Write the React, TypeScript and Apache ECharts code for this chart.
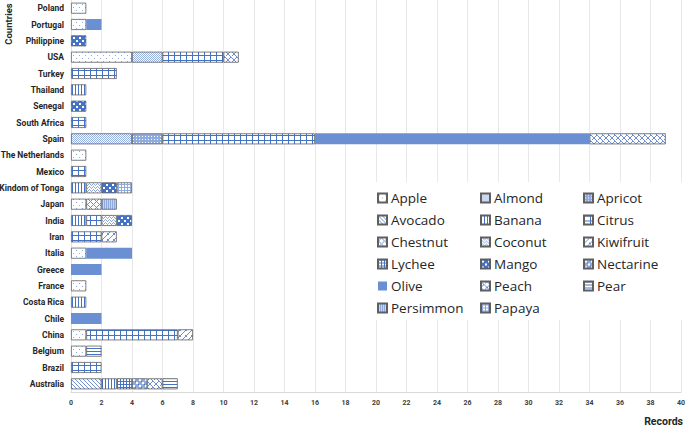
import React, { useEffect, useRef } from "react";
import * as echarts from "echarts";

const countries = [
  "Poland", "Portugal", "Philippine", "USA", "Turkey", "Thailand", "Senegal", "South Africa",
  "Spain", "The Netherlands", "Mexico", "Kindom of Tonga", "Japan", "India", "Iran", "Italia",
  "Greece", "France", "Costa Rica", "Chile", "China", "Belgium", "Brazil", "Australia",
];

// values per country, same order as `countries`
const apple =     [1, 1, 0, 4, 0, 0, 0, 0, 0, 1, 0, 0, 1, 0, 0, 1, 0, 1, 0, 0, 1, 1, 0, 0];
const almond =    [0, 0, 0, 2, 0, 0, 0, 0, 4, 0, 0, 0, 0, 0, 0, 0, 0, 0, 0, 0, 0, 0, 0, 0];
const apricot =   [0, 0, 0, 0, 0, 0, 0, 0, 2, 0, 0, 0, 0, 0, 0, 0, 0, 0, 0, 0, 0, 0, 0, 0];
const avocado =   [0, 0, 0, 0, 0, 0, 0, 0, 0, 0, 0, 0, 0, 0, 0, 0, 0, 0, 0, 0, 0, 0, 0, 2];
const banana =    [0, 0, 0, 0, 0, 1, 0, 0, 0, 0, 0, 1, 0, 1, 0, 0, 0, 0, 1, 0, 0, 0, 0, 1];
const citrus =    [0, 0, 0, 4, 3, 0, 0, 1, 10, 0, 1, 0, 0, 1, 2, 0, 0, 0, 0, 0, 6, 0, 2, 0];
const chestnut =  [0, 0, 0, 0, 0, 0, 0, 0, 0, 0, 0, 0, 1, 0, 0, 0, 0, 0, 0, 0, 0, 0, 0, 0];
const coconut =   [0, 0, 0, 0, 0, 0, 0, 0, 0, 0, 0, 1, 0, 1, 0, 0, 0, 0, 0, 0, 0, 0, 0, 0];
const kiwifruit = [0, 0, 0, 0, 0, 0, 0, 0, 0, 0, 0, 0, 0, 0, 1, 0, 0, 0, 0, 0, 1, 0, 0, 0];
const lychee =    [0, 0, 0, 0, 0, 0, 0, 0, 0, 0, 0, 0, 0, 0, 0, 0, 0, 0, 0, 0, 0, 0, 0, 1];
const mango =     [0, 0, 1, 0, 0, 0, 1, 0, 0, 0, 0, 1, 0, 1, 0, 0, 0, 0, 0, 0, 0, 0, 0, 0];
const nectarine = [0, 0, 0, 0, 0, 0, 0, 0, 0, 0, 0, 0, 0, 0, 0, 0, 0, 0, 0, 0, 0, 0, 0, 1];
const olive =     [0, 1, 0, 0, 0, 0, 0, 0, 18, 0, 0, 0, 0, 0, 0, 3, 2, 0, 0, 2, 0, 0, 0, 0];
const peach =     [0, 0, 0, 1, 0, 0, 0, 0, 5, 0, 0, 0, 0, 0, 0, 0, 0, 0, 0, 0, 0, 0, 0, 1];
const pear =      [0, 0, 0, 0, 0, 0, 0, 0, 0, 0, 0, 0, 0, 0, 0, 0, 0, 0, 0, 0, 0, 1, 0, 1];
const persimmon = [0, 0, 0, 0, 0, 0, 0, 0, 0, 0, 0, 0, 1, 0, 0, 0, 0, 0, 0, 0, 0, 0, 0, 0];
const papaya =    [0, 0, 0, 0, 0, 0, 0, 0, 0, 0, 0, 1, 0, 0, 0, 0, 0, 0, 0, 0, 0, 0, 0, 0];

const fruitNames = [
  "Apple", "Almond", "Apricot", "Avocado", "Banana", "Citrus", "Chestnut", "Coconut",
  "Kiwifruit", "Lychee", "Mango", "Nectarine", "Olive", "Peach", "Pear", "Persimmon", "Papaya",
];
const fruitValues = [
  apple, almond, apricot, avocado, banana, citrus, chestnut, coconut,
  kiwifruit, lychee, mango, nectarine, olive, peach, pear, persimmon, papaya,
];

const xTicks = { min: 0, max: 40, interval: 2 };

const BLUE = "#4472c4";
const MID = "#6f8fd0";
const LIGHT = "#8faadc";
const OLIVE = "#6a8fd3";

function tile(w: number, h: number, bg: string, draw: (c: CanvasRenderingContext2D) => void) {
  const cv = document.createElement("canvas");
  cv.width = w;
  cv.height = h;
  const c = cv.getContext("2d")!;
  c.fillStyle = bg;
  c.fillRect(0, 0, w, h);
  draw(c);
  return { image: cv, repeat: "repeat" } as any;
}
function px(c: CanvasRenderingContext2D, col: string, pts: number[][]) {
  c.fillStyle = col;
  pts.forEach(([x, y]) => c.fillRect(x, y, 1, 1));
}

function makePatterns(): Record<string, any> {
  const p: Record<string, any> = {};
  p.Apple = tile(6, 6, "#fff", (c) => px(c, LIGHT, [[1, 1], [4, 4]]));
  p.Almond = tile(2, 2, "#fff", (c) => px(c, "#97b0e0", [[0, 0], [1, 1]]));
  p.Apricot = tile(3, 3, "#8eaadf", (c) => px(c, "#fff", [[1, 1]]));
  p.Avocado = tile(4, 4, "#fff", (c) => px(c, MID, [[0, 0], [1, 1], [2, 2], [3, 3]]));
  p.Banana = tile(3, 1, "#fff", (c) => px(c, BLUE, [[0, 0]]));
  p.Citrus = tile(6, 5, "#fff", (c) => {
    c.fillStyle = BLUE;
    c.fillRect(0, 0, 6, 1);
    c.fillRect(0, 0, 1, 5);
  });
  p.Chestnut = tile(6, 6, "#fff", (c) =>
    px(c, MID, [[3, 0], [2, 1], [4, 1], [1, 2], [5, 2], [0, 3], [1, 4], [5, 4], [2, 5], [4, 5]]));
  p.Coconut = tile(4, 3, "#fff", (c) => px(c, LIGHT, [[0, 1], [1, 0], [2, 1], [3, 2]]));
  p.Kiwifruit = tile(6, 6, "#fff", (c) =>
    px(c, MID, [[5, 0], [4, 1], [3, 2], [2, 3], [1, 4], [0, 5], [0, 0], [5, 5]]));
  p.Lychee = tile(3, 3, "#fff", (c) => {
    c.fillStyle = BLUE;
    c.fillRect(0, 0, 3, 1);
    c.fillRect(0, 0, 1, 3);
  });
  p.Mango = tile(6, 6, BLUE, (c) => {
    c.fillStyle = "#fff";
    c.fillRect(1, 1, 2, 2);
    c.fillRect(4, 4, 2, 2);
  });
  p.Nectarine = tile(6, 6, LIGHT, (c) => {
    c.fillStyle = "#fff";
    c.fillRect(1, 1, 2, 2);
    c.fillRect(4, 4, 2, 2);
    px(c, BLUE, [[0, 0], [3, 3]]);
  });
  p.Olive = OLIVE;
  p.Peach = tile(6, 6, "#fff", (c) =>
    px(c, MID, [[0, 0], [1, 1], [2, 2], [3, 3], [4, 4], [5, 5], [5, 0], [4, 1], [2, 3], [1, 4], [0, 5]]));
  p.Pear = tile(1, 3, "#fff", (c) => px(c, BLUE, [[0, 0]]));
  p.Persimmon = tile(2, 1, "#c5d5f0", (c) => px(c, LIGHT, [[0, 0]]));
  p.Papaya = tile(3, 3, "#fff", (c) => {
    c.fillStyle = LIGHT;
    c.fillRect(0, 1, 3, 1);
    c.fillRect(1, 0, 1, 3);
  });
  return p;
}

const FONT = "Roboto, sans-serif";

export default function App() {
  const ref = useRef<HTMLDivElement>(null);
  useEffect(() => {
    document.body.style.margin = "0";
    const chart = echarts.init(ref.current!, null, { renderer: "svg" });
    const pats = makePatterns();
    const series = fruitNames.map((name, i) => ({
      name,
      type: "bar",
      stack: "total",
      barWidth: 11,
      data: fruitValues[i].map((v) => (v ? v : null)),
      itemStyle: {
        color: pats[name],
        borderColor: name === "Olive" ? OLIVE : "#5f5f5f",
        borderWidth: name === "Olive" ? 0 : 0.8,
      },
    }));
    const legendCols = [
      ["Apple", "Avocado", "Chestnut", "Lychee", "Olive", "Persimmon"],
      ["Almond", "Banana", "Coconut", "Mango", "Peach", "Papaya"],
      ["Apricot", "Citrus", "Kiwifruit", "Nectarine", "Pear"],
    ];
    const colLeft = [377, 480, 583];
    chart.setOption({
      animation: false,
      grid: { left: 71, right: 4, top: 0, bottom: 40, containLabel: false, outerBoundsMode: "none" },
      xAxis: {
        type: "value",
        min: xTicks.min,
        max: xTicks.max,
        interval: xTicks.interval,
        axisLine: { show: true, lineStyle: { color: "#d9d9d9" } },
        axisTick: { show: false },
        splitLine: { show: true, lineStyle: { color: "#e8e8e8", width: 1 } },
        axisLabel: { fontSize: 7, fontWeight: "bold", color: "#404040", fontFamily: FONT, margin: 7 },
      },
      yAxis: {
        type: "category",
        inverse: true,
        data: countries,
        axisLine: { show: true, lineStyle: { color: "#e0e0e0" } },
        axisTick: { show: false },
        axisLabel: { interval: 0, fontSize: 8.5, fontWeight: "bold", color: "#262626", fontFamily: FONT, margin: 7 },
      },
      legend: legendCols.map((col, k) => ({
        orient: "vertical",
        left: colLeft[k],
        top: 190,
        padding: 0,
        z: 10,
        data: col,
        itemWidth: 9,
        itemHeight: 9,
        itemGap: 6,
        icon: "rect",
        selectedMode: false,
        textStyle: { fontSize: 13.5, lineHeight: 16, color: "#262626", fontFamily: "'Open Sans', sans-serif", padding: [0, 0, 0, -1] },
      })),
      graphic: [
        { type: "rect", z: 3, shape: { x: 368, y: 182, width: 317, height: 138 }, style: { fill: "#fff" } },
        {
          type: "text", x: 8, y: 24, rotation: Math.PI / 2,
          style: { text: "Countries", fontSize: 9.5, fontWeight: "bold", fill: "#262626", fontFamily: FONT, textAlign: "center", textVerticalAlign: "middle" },
        },
        {
          type: "text", x: 683, y: 421,
          style: { text: "Records", fontSize: 10.5, fontWeight: "bold", fill: "#262626", fontFamily: FONT, textAlign: "right", textVerticalAlign: "middle" },
        },
      ],
      series,
    });
    return () => chart.dispose();
  }, []);
  return <div ref={ref} style={{ width: 685, height: 432 }} />;
}
